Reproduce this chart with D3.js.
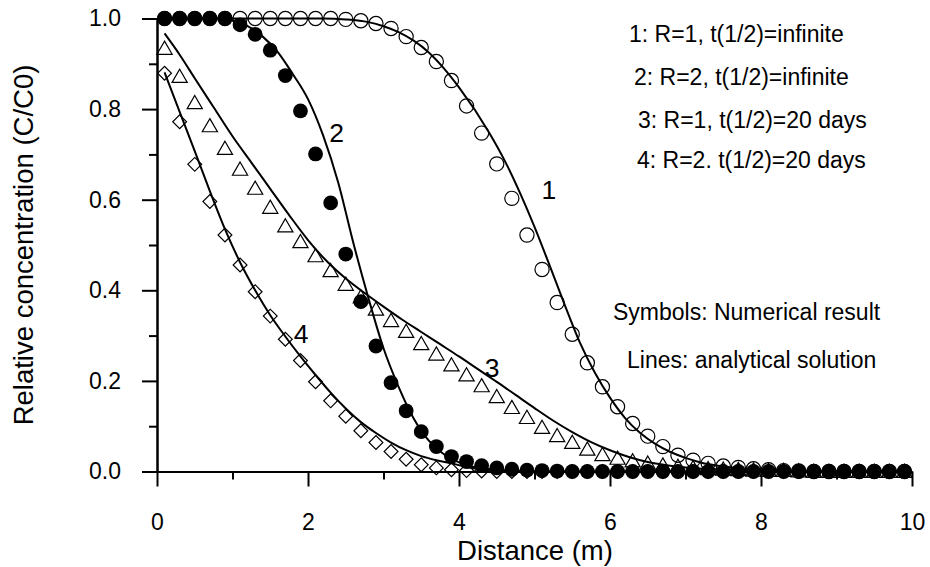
<!DOCTYPE html>
<html>
  <head>
    <meta charset="utf-8">
    <title>Relative concentration vs distance</title>
    <script src="https://d3js.org/d3.v7.min.js"></script>
    <style>
      body { margin: 0; background: #fff; }
      svg { display: block; font-family: "Liberation Sans", Arial, sans-serif; }
      .axis path, .axis line { stroke: #000; stroke-width: 2; }
      .axis text { font-size: 23px; fill: #000; }
      .curve { fill: none; stroke: #000; stroke-width: 2; }
    </style>
  </head>
  <body>
    <svg id="chart" width="930" height="567"></svg>
    <script>
      // numerical results, one value per distance
      distance = [0.1, 0.3, 0.5, 0.7, 0.9, 1.1, 1.3, 1.5, 1.7, 1.9,
        2.1, 2.3, 2.5, 2.7, 2.9, 3.1, 3.3, 3.5, 3.7, 3.9,
        4.1, 4.3, 4.5, 4.7, 4.9, 5.1, 5.3, 5.5, 5.7, 5.9,
        6.1, 6.3, 6.5, 6.7, 6.9, 7.1, 7.3, 7.5, 7.7, 7.9,
        8.1, 8.3, 8.5, 8.7, 8.9, 9.1, 9.3, 9.5, 9.7, 9.9];
      num1 = [1, 1, 1, 1, 1, 1, 1, 1, 1, 1,
        1, 1, 0.998, 0.995, 0.989, 0.978, 0.960, 0.936, 0.905, 0.863,
        0.807, 0.747, 0.679, 0.603, 0.522, 0.446, 0.373, 0.303, 0.240, 0.187,
        0.143, 0.106, 0.078, 0.055, 0.036, 0.025, 0.018, 0.012, 0.009, 0.006,
        0.004, 0.002, 0.001, 0, 0, 0, 0, 0, 0, 0];
      num2 = [1, 1, 1, 1, 1, 0.986, 0.965, 0.930, 0.874, 0.796,
        0.701, 0.593, 0.480, 0.375, 0.277, 0.196, 0.134, 0.088, 0.055, 0.033,
        0.022, 0.013, 0.008, 0.005, 0.003, 0.002, 0.001, 0, 0, 0,
        0, 0, 0, 0, 0, 0, 0, 0, 0, 0,
        0, 0, 0, 0, 0, 0, 0, 0, 0, 0];
      num3 = [0.934, 0.872, 0.814, 0.763, 0.713, 0.667, 0.625, 0.583, 0.542, 0.507,
        0.476, 0.443, 0.413, 0.385, 0.358, 0.333, 0.309, 0.282, 0.259, 0.235,
        0.213, 0.189, 0.165, 0.141, 0.119, 0.097, 0.079, 0.064, 0.049, 0.037,
        0.029, 0.023, 0.018, 0.014, 0.011, 0.008, 0.006, 0.005, 0.004, 0.003,
        0.002, 0.002, 0.001, 0, 0, 0, 0, 0, 0, 0];
      num4 = [0.879, 0.772, 0.678, 0.596, 0.522, 0.456, 0.397, 0.343, 0.292, 0.245,
        0.198, 0.156, 0.122, 0.090, 0.064, 0.044, 0.027, 0.015, 0.008, 0.004,
        0.002, 0.001, 0, 0, 0, 0, 0, 0, 0, 0,
        0, 0, 0, 0, 0, 0, 0, 0, 0, 0,
        0, 0, 0, 0, 0, 0, 0, 0, 0, 0];

      // analytical solutions
      line1X = [0.1, 2.2, 2.5, 2.8, 3.0, 3.2, 3.4, 3.6, 3.8, 4.0, 4.4, 4.6, 4.8, 5.0, 5.2, 5.4,
        5.6, 5.8, 6.0, 6.2, 6.4, 6.6, 6.8, 7.0, 7.2, 7.5, 8.0, 8.5, 10];
      line1Y = [1, 1, 0.998, 0.992, 0.983, 0.970, 0.951, 0.925, 0.89, 0.848, 0.748, 0.688, 0.618, 0.540, 0.455, 0.368,
        0.285, 0.218, 0.163, 0.118, 0.085, 0.061, 0.043, 0.030, 0.020, 0.011, 0.003, 0, 0];
      line2X = [0.1, 0.8, 1.0, 1.2, 1.4, 1.6, 1.8, 2.0, 2.2, 2.4, 2.6, 2.8, 3.0,
        3.2, 3.4, 3.6, 3.8, 4.0, 4.2, 4.5, 5.0, 10];
      line2Y = [1, 1, 0.995, 0.983, 0.960, 0.926, 0.877, 0.822, 0.742, 0.638, 0.505, 0.383, 0.272,
        0.187, 0.117, 0.068, 0.038, 0.02, 0.01, 0.004, 0, 0];
      line3X = [0.1, 0.3, 0.5, 0.75, 1.0, 1.25, 1.5, 1.75, 2.0, 2.25, 2.5, 2.75, 3.0,
        3.25, 3.5, 3.75, 4.0, 4.25, 4.5, 4.75, 5.0, 5.25, 5.5, 5.75, 6.0, 6.25,
        6.5, 6.75, 7.0, 7.5, 8.0, 8.5, 10];
      line3Y = [0.967, 0.920, 0.868, 0.804, 0.74, 0.682, 0.624, 0.566, 0.511, 0.464, 0.426, 0.394, 0.364,
        0.335, 0.308, 0.281, 0.254, 0.226, 0.198, 0.169, 0.140, 0.112, 0.087, 0.065, 0.047, 0.032,
        0.021, 0.014, 0.009, 0.004, 0.001, 0, 0];
      line4X = [0.1, 0.3, 0.5, 0.7, 0.9, 1.1, 1.3, 1.5, 1.7, 1.9, 2.1, 2.3, 2.5,
        2.7, 2.9, 3.1, 3.3, 3.5, 3.7, 3.9, 4.1, 4.3, 4.6, 5.0, 10];
      line4Y = [0.881, 0.794, 0.707, 0.619, 0.535, 0.462, 0.400, 0.345, 0.298, 0.254, 0.213, 0.174, 0.139,
        0.109, 0.085, 0.064, 0.047, 0.034, 0.025, 0.018, 0.010, 0.005, 0.001, 0, 0];

      // curve numbers (data coordinates of the label baseline)
      curveLabels = [["1", 5.19, 0.601], ["2", 2.38, 0.727], ["3", 4.44, 0.208], ["4", 1.91, 0.283]];
      legendText = ["1: R=1, t(1/2)=infinite", "2: R=2, t(1/2)=infinite",
        "3: R=1, t(1/2)=20 days", "4: R=2. t(1/2)=20 days"];
      noteText = ["Symbols: Numerical result", "Lines: analytical solution"];
      xMajor = [0, 2, 4, 6, 8, 10];
      xMinor = [1, 3, 5, 7, 9];
      yMajor = [0, 0.2, 0.4, 0.6, 0.8, 1.0];
      yMinor = [0.1, 0.3, 0.5, 0.7, 0.9];

      svg = d3.select("#chart");
      x = d3.scaleLinear().domain([0, 10]).range([157, 912]);
      y = d3.scaleLinear().domain([0, 1]).range([471.5, 18.5]);

      // axes: minor ticks first, then the labelled ones
      svg.append("g")
        .attr("class", "axis")
        .attr("transform", "translate(0, 471.5)")
        .call(d3.axisBottom(x).tickValues(xMinor).tickSize(8).tickSizeOuter(0).tickFormat(""));
      svg.append("g")
        .attr("class", "axis")
        .attr("transform", "translate(0, 471.5)")
        .call(d3.axisBottom(x).tickValues(xMajor).tickSize(15).tickSizeOuter(0).tickPadding(27));
      svg.append("g")
        .attr("class", "axis")
        .attr("transform", "translate(157, 0)")
        .call(d3.axisLeft(y).tickValues(yMinor).tickSize(8).tickSizeOuter(0).tickFormat(""));
      svg.append("g")
        .attr("class", "axis")
        .attr("transform", "translate(157, 0)")
        .call(d3.axisLeft(y).tickValues(yMajor).tickSize(15).tickSizeOuter(0).tickPadding(21).tickFormat(d3.format(".1f")));
      svg.selectAll(".axis text").attr("font-family", null);

      // axis titles
      svg.append("text")
        .attr("x", 535)
        .attr("y", 560)
        .attr("text-anchor", "middle")
        .style("font-size", "27.5px")
        .text("Distance (m)");
      svg.append("text")
        .attr("transform", "translate(33, 245) rotate(-90)")
        .attr("text-anchor", "middle")
        .style("font-size", "27.5px")
        .text("Relative concentration (C/C0)");

      // analytical lines
      line = d3.line()
        .x(function(d) { return x(d[0]); })
        .y(function(d) { return y(d[1]); })
        .curve(d3.curveMonotoneX);
      [[line1X, line1Y], [line2X, line2Y], [line3X, line3Y], [line4X, line4Y]].forEach(function(s) {
        svg.append("path")
          .attr("class", "curve")
          .attr("d", line(d3.zip(s[0], s[1])));
      });

      // numerical symbols
      function points(values) {
        return d3.zip(distance, values);
      }
      svg.append("g").selectAll("circle")
        .data(points(num1))
        .enter().append("circle")
          .attr("cx", function(d) { return x(d[0]); })
          .attr("cy", function(d) { return y(d[1]); })
          .attr("r", 7.1)
          .attr("fill", "none")
          .attr("stroke", "#000")
          .attr("stroke-width", 1.2);
      triangle = d3.symbol().type(d3.symbolTriangle).size(100);
      svg.append("g").selectAll("path")
        .data(points(num3))
        .enter().append("path")
          .attr("d", triangle)
          .attr("transform", function(d) { return "translate(" + x(d[0]) + "," + (y(d[1]) + 1.5) + ")"; })
          .attr("fill", "none")
          .attr("stroke", "#000")
          .attr("stroke-width", 1.2);
      diamond = d3.symbol().type(d3.symbolSquare).size(95);
      svg.append("g").selectAll("path")
        .data(points(num4))
        .enter().append("path")
          .attr("d", diamond)
          .attr("transform", function(d) { return "translate(" + x(d[0]) + "," + y(d[1]) + ") rotate(45)"; })
          .attr("fill", "none")
          .attr("stroke", "#000")
          .attr("stroke-width", 1.2);
      svg.append("g").selectAll("circle")
        .data(points(num2))
        .enter().append("circle")
          .attr("cx", function(d) { return x(d[0]); })
          .attr("cy", function(d) { return y(d[1]); })
          .attr("r", 7.4)
          .attr("fill", "#000");

      // curve numbers
      svg.selectAll(".curveLabel")
        .data(curveLabels)
        .enter().append("text")
          .attr("class", "curveLabel")
          .attr("x", function(d) { return x(d[1]); })
          .attr("y", function(d) { return y(d[2]); })
          .attr("text-anchor", "middle")
          .style("font-size", "26.5px")
          .text(function(d) { return d[0]; });

      // legend and notes
      legendX = [629, 634, 638, 637];
      legendY = [42, 85, 128, 168];
      svg.selectAll(".legend")
        .data(legendText)
        .enter().append("text")
          .attr("class", "legend")
          .attr("x", function(d, i) { return legendX[i]; })
          .attr("y", function(d, i) { return legendY[i]; })
          .style("font-size", "23px")
          .text(function(d) { return d; });
      noteX = [613, 627];
      noteY = [320, 368];
      svg.selectAll(".note")
        .data(noteText)
        .enter().append("text")
          .attr("class", "note")
          .attr("x", function(d, i) { return noteX[i]; })
          .attr("y", function(d, i) { return noteY[i]; })
          .style("font-size", "23px")
          .text(function(d) { return d; });
    </script>
  </body>
</html>
